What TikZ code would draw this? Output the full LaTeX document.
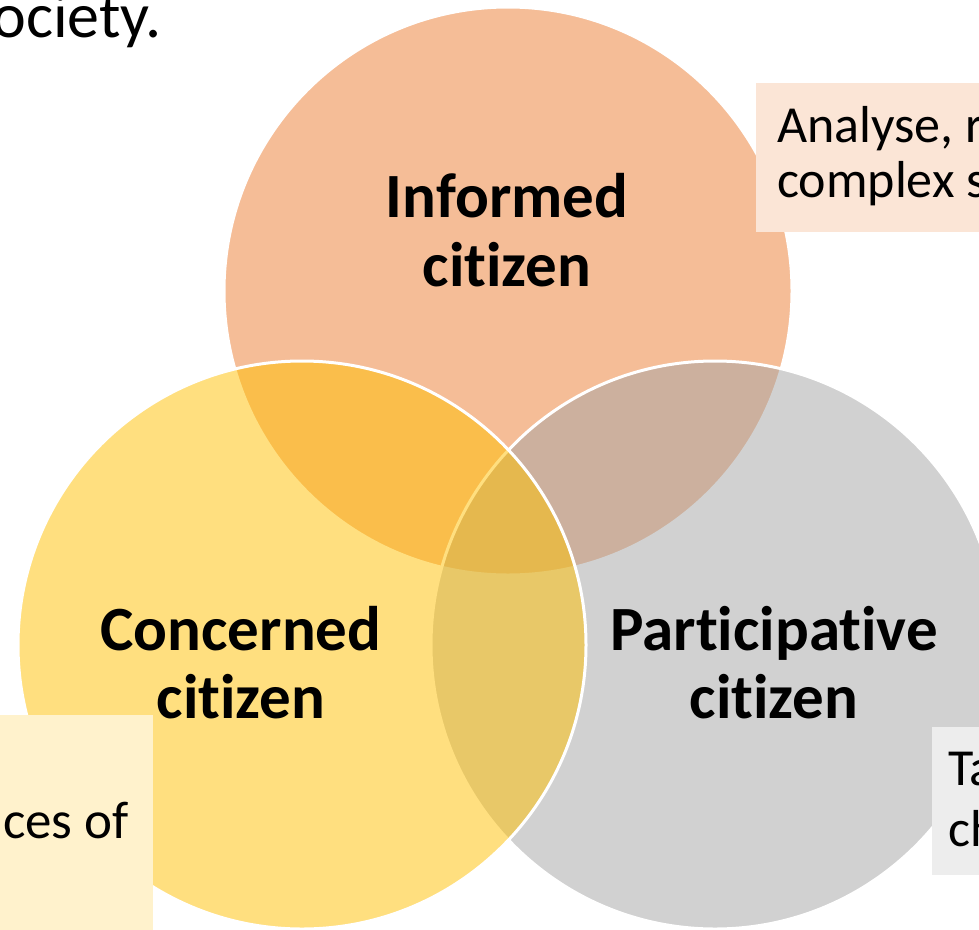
\documentclass[tikz,border=0pt]{standalone}
\usepackage{fontspec}
\setmainfont{Carlito}[Ligatures=NoCommon]
\definecolor{orangeA}{HTML}{ED7D31}
\definecolor{grayA}{HTML}{A5A5A5}
\definecolor{goldA}{HTML}{FFC000}
\definecolor{boxO}{HTML}{FBE5D6}
\definecolor{boxY}{HTML}{FFF2CC}
\definecolor{boxG}{HTML}{EDEDED}
\tikzset{
  venn/.style={circle, minimum size=568pt, inner sep=0pt, draw=white, line width=3pt, fill opacity=0.5, draw opacity=1},
  lbl/.style={font=\fontsize{63}{69}\selectfont\bfseries, anchor=base, inner sep=0pt, text=black},
  note/.style={font=\fontsize{52}{57}\selectfont, inner sep=0pt, text=black},
  notebox/.style={anchor=north west, inner sep=0pt, draw=none},
}
\begin{document}
\begin{tikzpicture}[x=1pt,y=-1pt]
\useasboundingbox (0,0) rectangle (979,929);
\clip (0,0) rectangle (979,929);
\fill[white] (0,0) rectangle (979,929);
\node[note, anchor=base east, font=\fontsize{64}{70}\selectfont] (soc) at (162,37) {society.};
% circles
\node[venn, fill=orangeA] (inf) at (508,291) {};
\node[venn, fill=grayA] (par) at (715,645) {};
\node[venn, fill=goldA] (con) at (302,645) {};
% boxes
\node[notebox, fill=boxO, minimum width=240pt, minimum height=149pt] (boxtr) at (756,83) {};
\node[notebox, fill=boxY, minimum width=170pt, minimum height=230pt] (boxbl) at (-17,715) {};
\node[notebox, fill=boxG, minimum width=60pt, minimum height=148pt] (boxbr) at (932,727) {};
% box texts
\node[note, anchor=base west] (tr1) at (777,142) {Analyse, reflect on};
\node[note, anchor=base west] (tr2) at (777,197) {complex situations};
\node[note, anchor=base east, font=\fontsize{53}{58}\selectfont] (bl1) at (129,838) {consequences of};
\node[note, anchor=base west] (br1) at (948,785) {Take action};
\node[note, anchor=base west] (br2) at (948,846) {change};
% circle labels
\node[lbl] (inf1) at (507,217) {Informed};
\node[lbl] (inf2) at (507,286) {citizen};
\node[lbl] (con1) at (241,650) {Concerned};
\node[lbl] (con2) at (241,718) {citizen};
\node[lbl] (par1) at (774,650) {Participative};
\node[lbl] (par2) at (774,718) {citizen};
\end{tikzpicture}
\end{document}
